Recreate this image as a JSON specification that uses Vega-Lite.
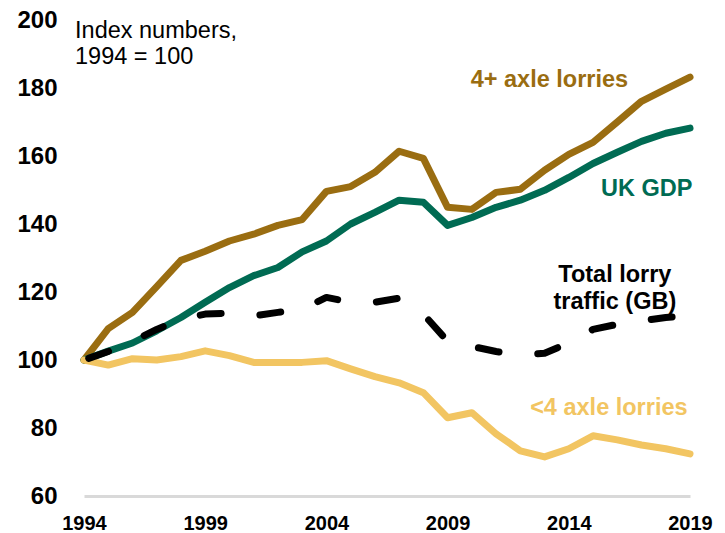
{
  "$schema": "https://vega.github.io/schema/vega-lite/v6.json",
  "autosize": "none",
  "width": 606,
  "height": 476,
  "padding": {"left": 84, "top": 20, "right": 35, "bottom": 37},
  "background": "white",
  "config": {
    "view": {"stroke": null},
    "font": "Liberation Sans",
    "axis": {"grid": false, "ticks": false, "tickSize": 0, "title": null, "labelFont": "Liberation Sans", "labelFontWeight": "bold", "labelColor": "#000000"}
  },
  "datasets": {
    "series": [
      {"year": 1994, "four": 100, "gdp": 100, "under4": 100, "total": 100},
      {"year": 1995, "four": 109.2, "gdp": 102.6, "under4": 98.5, "total": 102.5},
      {"year": 1996, "four": 114, "gdp": 105, "under4": 100.4, "total": 105.5},
      {"year": 1997, "four": 121.6, "gdp": 108.6, "under4": 100, "total": 109},
      {"year": 1998, "four": 129.3, "gdp": 112.5, "under4": 101, "total": 112},
      {"year": 1999, "four": 132, "gdp": 117, "under4": 102.7, "total": 113.5},
      {"year": 2000, "four": 135, "gdp": 121.3, "under4": 101.3, "total": 113.8},
      {"year": 2001, "four": 137, "gdp": 124.8, "under4": 99.3, "total": 113},
      {"year": 2002, "four": 139.6, "gdp": 127.2, "under4": 99.3, "total": 114},
      {"year": 2003, "four": 141.3, "gdp": 131.8, "under4": 99.3, "total": 115},
      {"year": 2004, "four": 149.6, "gdp": 135, "under4": 99.8, "total": 118.4},
      {"year": 2005, "four": 151, "gdp": 140, "under4": 97.4, "total": 117},
      {"year": 2006, "four": 155.2, "gdp": 143.4, "under4": 95.1, "total": 117},
      {"year": 2007, "four": 161.4, "gdp": 147, "under4": 93.3, "total": 118.2},
      {"year": 2008, "four": 159.3, "gdp": 146.4, "under4": 90.4, "total": 113.5},
      {"year": 2009, "four": 144.9, "gdp": 139.6, "under4": 83, "total": 105.5},
      {"year": 2010, "four": 144.3, "gdp": 141.9, "under4": 84.5, "total": 104},
      {"year": 2011, "four": 149.3, "gdp": 144.9, "under4": 78.3, "total": 102.5},
      {"year": 2012, "four": 150.2, "gdp": 147, "under4": 73.3, "total": 101.5},
      {"year": 2013, "four": 155.8, "gdp": 149.9, "under4": 71.5, "total": 102},
      {"year": 2014, "four": 160.5, "gdp": 153.7, "under4": 73.9, "total": 105},
      {"year": 2015, "four": 164, "gdp": 157.8, "under4": 77.7, "total": 109},
      {"year": 2016, "four": 170, "gdp": 161.1, "under4": 76.5, "total": 110.5},
      {"year": 2017, "four": 176.1, "gdp": 164.3, "under4": 75, "total": 111.5},
      {"year": 2018, "four": 179.7, "gdp": 166.7, "under4": 73.9, "total": 112.5},
      {"year": 2019, "four": 183.2, "gdp": 168.2, "under4": 72.4, "total": 113}
    ]
  },
  "encoding": {
    "x": {
      "field": "year", "type": "quantitative",
      "scale": {"domain": [1994, 2019], "nice": false, "zero": false},
      "axis": {"values": [1994, 1999, 2004, 2009, 2014, 2019], "format": "d", "labelFontSize": 20, "labelPadding": 17, "domainColor": "#D9D9D9", "domainWidth": 3, "labelFlush": false, "labelOverlap": false}
    }
  },
  "layer": [
    {
      "data": {"name": "series"},
      "mark": {"type": "line", "color": "#9A6D11", "strokeWidth": 7, "strokeJoin": "round", "strokeCap": "round"},
      "encoding": {
        "y": {
          "field": "four", "type": "quantitative",
          "scale": {"domain": [60, 200], "nice": false, "zero": false},
          "axis": {"values": [60, 80, 100, 120, 140, 160, 180, 200], "labelFontSize": 24, "labelPadding": 27, "domain": false}
        }
      }
    },
    {
      "data": {"name": "series"},
      "mark": {"type": "line", "color": "#006B53", "strokeWidth": 7, "strokeJoin": "round", "strokeCap": "round"},
      "encoding": {"y": {"field": "gdp", "type": "quantitative"}}
    },
    {
      "data": {"name": "series"},
      "mark": {"type": "line", "color": "#F2C562", "strokeWidth": 7, "strokeJoin": "round", "strokeCap": "round"},
      "encoding": {"y": {"field": "under4", "type": "quantitative"}}
    },
    {
      "data": {"name": "series"},
      "mark": {"type": "line", "color": "#000000", "strokeWidth": 7, "strokeDash": [21, 39], "strokeDashOffset": 55, "strokeCap": "round", "strokeJoin": "round"},
      "encoding": {"y": {"field": "total", "type": "quantitative"}}
    },
    {
      "data": {"values": [{"year": 2013.2, "value": 182.3, "label": "4+ axle lorries"}]},
      "mark": {"type": "text", "color": "#9A6D11", "fontSize": 23.5, "fontWeight": "bold", "align": "center", "baseline": "middle"},
      "encoding": {"y": {"field": "value", "type": "quantitative"}, "text": {"field": "label"}}
    },
    {
      "data": {"values": [{"year": 2019.1, "value": 150.3, "label": "UK GDP"}]},
      "mark": {"type": "text", "color": "#006B53", "fontSize": 23.5, "fontWeight": "bold", "align": "right", "baseline": "middle"},
      "encoding": {"y": {"field": "value", "type": "quantitative"}, "text": {"field": "label"}}
    },
    {
      "data": {"values": [{"year": 2015.9, "value": 125.1, "label": "Total lorry\ntraffic (GB)"}]},
      "mark": {"type": "text", "color": "#000000", "fontSize": 23.5, "fontWeight": "bold", "align": "center", "baseline": "middle", "lineBreak": "\n", "lineHeight": 27},
      "encoding": {"y": {"field": "value", "type": "quantitative"}, "text": {"field": "label"}}
    },
    {
      "data": {"values": [{"year": 2018.9, "value": 86, "label": "<4 axle lorries"}]},
      "mark": {"type": "text", "color": "#F2C562", "fontSize": 23.5, "fontWeight": "bold", "align": "right", "baseline": "middle"},
      "encoding": {"y": {"field": "value", "type": "quantitative"}, "text": {"field": "label"}}
    },
    {
      "data": {"values": [{"year": 1993.63, "value": 196.7, "label": "Index numbers,\n1994 = 100"}]},
      "mark": {"type": "text", "color": "#000000", "fontSize": 23.5, "align": "left", "baseline": "middle", "lineBreak": "\n", "lineHeight": 26},
      "encoding": {"y": {"field": "value", "type": "quantitative"}, "text": {"field": "label"}}
    }
  ]
}
